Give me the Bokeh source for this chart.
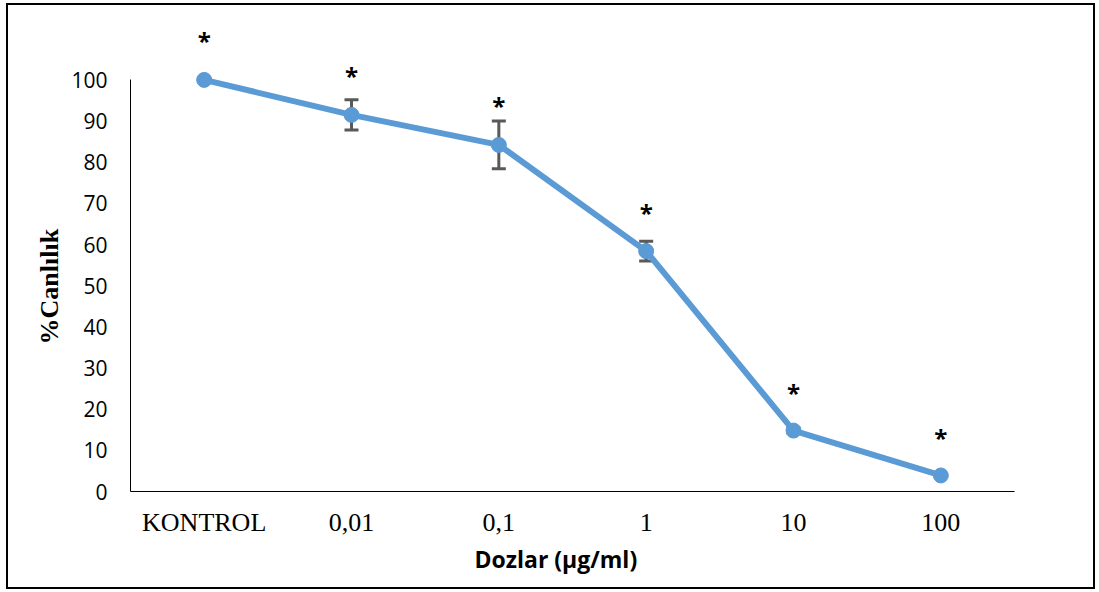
from bokeh.plotting import figure
from bokeh.models import ColumnDataSource, FactorRange, Range1d, Whisker, TeeHead, FixedTicker, Title
from bokeh.core.properties import value
from bokeh.embed import file_html
from bokeh.resources import INLINE

doses = ["KONTROL", "0,01", "0,1", "1", "10", "100"]
viability = [100.0, 91.5, 84.2, 58.4, 14.8, 3.9]
err = [0.0, 3.7, 5.8, 2.4, 0.6, 0.0]
star_y = [109.5, 101.0, 93.7, 67.7, 24.0, 13.1]
stars = ["*", "*", "*", "*", "*", "*"]
y_ticks = [0, 10, 20, 30, 40, 50, 60, 70, 80, 90, 100]
y_title = "%Canlılık"
x_title = "Dozlar (µg/ml)"

src = ColumnDataSource(dict(
    x=doses, y=viability,
    upper=[v + e for v, e in zip(viability, err)],
    lower=[v - e for v, e in zip(viability, err)],
    sy=star_y, st=stars,
))
has_err = ColumnDataSource(dict(
    x=[d for d, e in zip(doses, err) if e > 0],
    upper=[v + e for v, e in zip(viability, err) if e > 0],
    lower=[v - e for v, e in zip(viability, err) if e > 0],
))

p = figure(
    width=1089, height=586,
    x_range=FactorRange(factors=doses, range_padding=0),
    y_range=Range1d(0, 112),
    output_backend="svg", toolbar_location=None,
    min_border_left=122, min_border_right=83, min_border_top=25, min_border_bottom=100,
)
p.styles = {"border": "2px solid #000000", "margin-left": "6px", "margin-top": "3px"}
p.outline_line_color = None
p.grid.grid_line_color = None
p.background_fill_color = "white"

ERR_COLOR = "#595959"
w = Whisker(source=has_err, base="x", upper="upper", lower="lower",
            line_color=ERR_COLOR, line_width=3,
            upper_head=TeeHead(size=14, line_color=ERR_COLOR, line_width=3),
            lower_head=TeeHead(size=14, line_color=ERR_COLOR, line_width=3))
p.add_layout(w)

p.line("x", "y", source=src, line_color="#5B9BD5", line_width=6)
p.scatter("x", "y", source=src, size=15, fill_color="#5B9BD5", line_color="#5B9BD5")

p.text("x", "sy", text="st", source=src, text_align="center", text_baseline="middle",
       text_font=value("Open Sans"), text_font_size="24px", text_font_style="bold",
       text_color="black")

# y axis
p.yaxis.ticker = FixedTicker(ticks=y_ticks)
p.yaxis.bounds = (0, 100)
p.yaxis.major_tick_line_color = None
p.yaxis.minor_tick_line_color = None
p.yaxis.axis_line_color = "#000000"
p.yaxis.axis_line_width = 1
p.yaxis.major_label_text_font = "Open Sans"
p.yaxis.major_label_text_font_size = "21px"
p.yaxis.major_label_text_color = "black"
p.yaxis.major_label_standoff = 17

p.add_layout(Title(text=y_title, align="left", offset=147, standoff=10,
                   text_font="Liberation Serif", text_font_style="bold",
                   text_font_size="26px", text_color="black"), "left")

# x axis
p.xaxis.major_tick_line_color = None
p.xaxis.minor_tick_line_color = None
p.xaxis.axis_line_color = "#000000"
p.xaxis.axis_line_width = 1
p.xaxis.major_label_text_font = "Liberation Serif"
p.xaxis.major_label_text_font_size = "26px"
p.xaxis.major_label_text_color = "black"
p.xaxis.major_label_standoff = 10

p.add_layout(Title(text=x_title, align="left", offset=344, standoff=3,
                   text_font="Open Sans", text_font_style="bold",
                   text_font_size="23px", text_color="black"), "below")

open("out.html", "w").write(file_html(p, INLINE))
